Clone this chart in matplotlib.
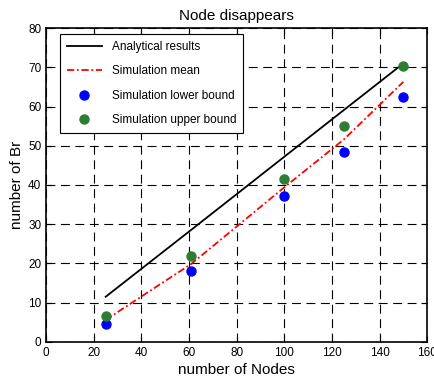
import numpy as np
import matplotlib.pyplot as plt

plt.rcParams['font.family'] = ['Liberation Sans', 'DejaVu Sans']

nodes = [25, 61, 100, 125, 150]
analytical = [11.5, 28.6, 47.2, 59.1, 71.0]
sim_mean = [5.6, 19.9, 39.4, 51.6, 66.3]
sim_lower = [4.5, 18.0, 37.2, 48.3, 62.5]
sim_upper = [6.7, 21.8, 41.5, 55.0, 70.3]

fig = plt.figure(figsize=(4.35, 3.85), dpi=100)
ax = fig.add_axes([0.106, 0.112, 0.876, 0.815])

ax.plot(nodes, analytical, color='black', lw=1.3, label='Analytical results')
ax.plot(nodes, sim_mean, color='red', lw=1.3, dashes=(4, 1.5, 1, 1.5), label='Simulation mean')
ax.plot(nodes, sim_lower, 'o', color='blue', ms=6.5, ls='none', label='Simulation lower bound')
ax.plot(nodes, sim_upper, 'o', color='#2e7d32', ms=6.5, ls='none', label='Simulation upper bound')

ax.set_xlim(0, 160)
ax.set_ylim(0, 80)
ax.set_xticks(np.arange(0, 161, 20))
ax.set_yticks(np.arange(0, 81, 10))
ax.grid(True, color='black', ls=(0, (8, 5)), lw=0.8)
ax.tick_params(direction='in', top=True, right=True, labelsize=8.5, length=4)
for s in ax.spines.values():
    s.set_linewidth(1.2)

ax.set_title('Node disappears', fontsize=11, pad=6)
ax.set_xlabel('number of Nodes', fontsize=11, labelpad=3)
ax.set_ylabel('number of Br', fontsize=11, labelpad=3)

leg = ax.legend(loc='upper left', fontsize=8.5, fancybox=False, edgecolor='black',
                framealpha=1, handlelength=3.0, borderpad=0.6, labelspacing=1.05,
                borderaxespad=0.5, bbox_to_anchor=(0.02, 1.0))
leg.get_frame().set_linewidth(0.8)

fig.savefig('out.png', dpi=100)
